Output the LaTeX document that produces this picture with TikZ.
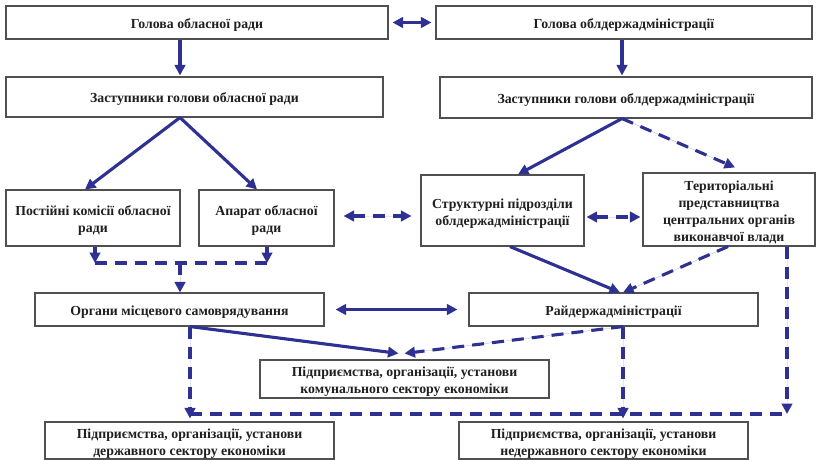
\documentclass[tikz,border=0pt]{standalone}
\usepackage{fontspec}
\setmainfont{Liberation Serif}
\usetikzlibrary{arrows.meta}
\definecolor{arrblue}{HTML}{2E3192}
\definecolor{boxgray}{HTML}{505050}
\newcommand{\tstrA}{\rule{0pt}{14pt}}
\newcommand{\tstrB}{\rule{0pt}{15.5pt}}
\begin{document}
\begin{tikzpicture}[x=1pt,y=-1pt,
  >={Triangle[length=10.5pt,width=10.5pt]},
  box/.style={draw=boxgray, line width=1.1pt, inner sep=0pt, align=center,
    font=\bfseries\fontsize{13.8}{17}\selectfont, text=black!88},
  solidarr/.style={draw=arrblue, fill=arrblue, line width=3.1pt, ->},
  dasharr/.style={draw=arrblue, fill=arrblue, line width=3.1pt, dash pattern=on 12pt off 8pt, ->},
  dashline/.style={draw=arrblue, line width=3.1pt, dash pattern=on 12pt off 8pt}]
\fill[white] (0,0) rectangle (816,460);
\useasboundingbox (0,0) rectangle (816,460);

% boxes
\node[box, minimum width=382pt, minimum height=33pt] (b1) at (197,22.5) {\tstrA Голова обласної ради};
\node[box, minimum width=376pt, minimum height=33pt] (b2) at (624,22.5) {\tstrA Голова облдержадміністрації};
\node[box, minimum width=377pt, minimum height=40pt] (b3) at (194.5,97) {\tstrA Заступники голови обласної ради};
\node[box, minimum width=372pt, minimum height=41pt] (b4) at (626,97.5) {\tstrA Заступники голови облдержадміністрації};
\node[box, minimum width=174pt, minimum height=56pt] (b5) at (93,218) {\tstrB Постійні комісії обласної\\ради};
\node[box, minimum width=135pt, minimum height=56pt] (b6) at (266.5,218) {\tstrB Апарат обласної\\ради};
\node[box, minimum width=163pt, minimum height=71pt] (b9) at (502.5,210.5) {\tstrB Структурні підрозділи\\облдержадміністрації};
\node[box, minimum width=172pt, minimum height=73pt] (b10) at (729,209.5) {\tstrB Територіальні\\представництва\\центральних органів\\виконавчої влади};
\node[box, minimum width=289pt, minimum height=33pt] (b7) at (179.5,309.5) {\tstrA Органи місцевого самоврядування};
\node[box, minimum width=289pt, minimum height=33pt] (b8) at (613.5,309.5) {\tstrA Райдержадміністрації};
\node[box, minimum width=289pt, minimum height=38pt] (b13) at (404.5,379) {\tstrB Підприємства, організації, установи\\комунального сектору економіки};
\node[box, minimum width=289pt, minimum height=37pt] (b11) at (189.5,440.5) {\tstrB Підприємства, організації, установи\\державного сектору економіки};
\node[box, minimum width=289pt, minimum height=37pt] (b12) at (603.5,440.5) {\tstrB Підприємства, організації, установи\\недержавного сектору економіки};

% junction coordinates
\coordinate (jL) at (95,263);
\coordinate (jR) at (267,263);
\coordinate (jM) at (180,263);
\coordinate (hL) at (190,414);
\coordinate (hR) at (787,414);

% connectors
\draw[solidarr,<->,shorten <=4pt,shorten >=4pt] (b1.east) -- (b2.west);
\draw[solidarr,shorten >=1pt] ([xshift=-17pt]b1.south) -- ([xshift=-17pt]b1.south |- b3.north);
\draw[solidarr,shorten >=1pt] ([xshift=-2pt]b2.south) -- ([xshift=-2pt]b2.south |- b4.north);
\draw[solidarr] ([xshift=-14.5pt]b3.south) -- ([xshift=-8pt]b5.north);
\draw[solidarr] ([xshift=-14.5pt]b3.south) -- ([xshift=-9.5pt]b6.north);
\draw[dasharr,<->,shorten <=9pt,shorten >=9pt] ([yshift=2pt]b6.east) -- ([yshift=2pt]b6.east -| b9.west);
\draw[solidarr] ([xshift=-4pt]b4.south) -- ([xshift=15.5pt]b9.north);
\draw[dasharr] ([xshift=-4pt]b4.south) -- ([xshift=6pt,yshift=5pt]b10.north);
\draw[dasharr,<->,shorten <=2pt,shorten >=2pt] ([yshift=-6.5pt]b9.east) -- ([yshift=-6.5pt]b9.east -| b10.west);
\draw[solidarr] ([xshift=7.5pt]b9.south) -- ([xshift=6.5pt]b8.north);
\draw[dasharr] ([xshift=-1pt]b10.south) -- ([xshift=9.5pt]b8.north);

\draw[dasharr] (b5.south -| jL) -- (jL);
\draw[dasharr] (b6.south -| jR) -- (jR);
\draw[dashline] (jL) -- (jR);
\draw[dasharr] (jM) -- (jM |- b7.north);

\draw[solidarr,<->,shorten <=11pt,shorten >=11pt] (b7.east) -- (b8.west);
\draw[solidarr] ([xshift=10.5pt]b7.south) -- ([xshift=-6pt,yshift=6pt]b13.north);
\draw[dasharr] ([xshift=9.5pt]b8.south) -- ([yshift=6pt]b13.north);
\draw[dasharr,shorten >=3pt] ([xshift=10.5pt]b7.south) -- (hL |- b11.north);
\draw[dasharr,shorten >=3pt] ([xshift=9.5pt]b8.south) -- ([xshift=9.5pt]b8.south |- b12.north);
\draw[dasharr] (b10.south -| hR) -- (hR);
\draw[dashline] (hL) -- (hR);
\end{tikzpicture}
\end{document}
